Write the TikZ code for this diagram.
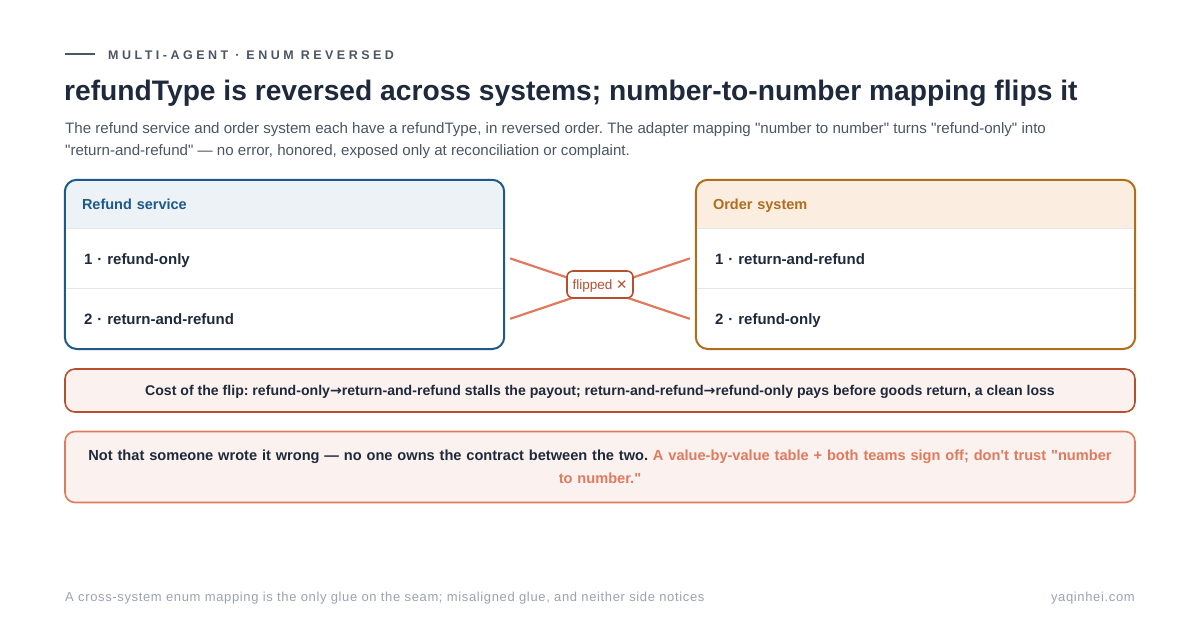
\documentclass[tikz,border=0pt]{standalone}
\usepackage{fontspec}
\setmainfont{Liberation Sans}
\newfontfamily\symfont{DejaVu Sans}
\newfontfamily\eyefont[LetterSpace=28]{Liberation Sans}
\newfontfamily\footfont[LetterSpace=5]{Liberation Sans}
\usetikzlibrary{positioning}
\frenchspacing

\definecolor{ink}{HTML}{1E293B}
\definecolor{subgray}{HTML}{4B5563}
\definecolor{footgray}{HTML}{9CA3AF}
\definecolor{sepgray}{HTML}{E5E7EB}
\definecolor{refblue}{HTML}{1D5A8A}
\definecolor{refbluebg}{HTML}{EDF2F7}
\definecolor{ordbrown}{HTML}{B06D1E}
\definecolor{ordbrownbg}{HTML}{FBEEE0}
\definecolor{flipred}{HTML}{E07A5F}
\definecolor{flipdark}{HTML}{B5502F}
\definecolor{costbg}{HTML}{FBF1EE}

\begin{document}
\begin{tikzpicture}[x=1pt, y=-1pt, node distance=0pt]
	\tikzstyle{txt}=[inner sep=0, anchor=base west, text=ink]
	\tikzstyle{hd}=[minimum width=439, minimum height=48, inner sep=0, text width=405, text height=13, text depth=2, align=left, font=\bfseries\fontsize{14.5}{17}\selectfont]
	\tikzstyle{row}=[minimum width=439, minimum height=60, inner sep=0, text width=401, text height=14, text depth=2, align=left, text=ink, font=\bfseries\fontsize{15}{18}\selectfont]
	\tikzstyle{sep}=[draw=sepgray, line width=1]
	\tikzstyle{flip}=[draw=flipred, line width=2.2]
	\tikzstyle{wide}=[minimum width=1070, inner sep=0, rounded corners=10, line width=1.6, fill=costbg, align=center, text=ink]

	\fill[white] (0,0) rectangle (1200,626);

	% heading
	\draw[subgray, line width=1.8] (65,54) -- (95,54);
	\node[txt, text=subgray, font=\eyefont\bfseries\fontsize{12.5}{15}\selectfont] (eyebrow) at (108,59.5) {MULTI-AGENT · ENUM REVERSED};
	\node[txt, font=\bfseries\fontsize{28.2}{32}\selectfont] (title) at (64,100.5) {refundType is reversed across systems; number-to-number mapping flips it};
	\node[txt, text=subgray, font=\fontsize{15.1}{18}\selectfont] (sub1) at (65,133.5) {The refund service and order system each have a refundType, in reversed order. The adapter mapping \textquotedbl number to number\textquotedbl\ turns \textquotedbl refund-only\textquotedbl\ into};
	\node[txt, text=subgray, font=\fontsize{15.1}{18}\selectfont] (sub2) at (65,155.5) {\textquotedbl return-and-refund\textquotedbl\ — no error, honored, exposed only at reconciliation or complaint.};

	% header bands
	\begin{scope}
		\clip[rounded corners=12] (65,180) rectangle (504,348);
		\fill[refbluebg] (65,180) rectangle (504,228);
	\end{scope}
	\begin{scope}
		\clip[rounded corners=12] (696,180) rectangle (1135,348);
		\fill[ordbrownbg] (696,180) rectangle (1135,228);
	\end{scope}

	% refund service
	\node[hd, text=refblue] (lhd) at (284.5,204) {Refund service};
	\node[row, below=of lhd] (l1) {1 · refund-only};
	\node[row, below=of l1] (l2) {2 · return-and-refund};
	\draw[sep] (l1.north west) -- (l1.north east);
	\draw[sep] (l2.north west) -- (l2.north east);
	\draw[refblue, line width=2, rounded corners=12] (lhd.north west) rectangle (l2.south east);

	% order system
	\node[hd, text=ordbrown] (rhd) at (915.5,204) {Order system};
	\node[row, below=of rhd] (r1) {1 · return-and-refund};
	\node[row, below=of r1] (r2) {2 · refund-only};
	\draw[sep] (r1.north west) -- (r1.north east);
	\draw[sep] (r2.north west) -- (r2.north east);
	\draw[ordbrown, line width=2, rounded corners=12] (rhd.north west) rectangle (r2.south east);

	% crossed mapping
	\draw[flip] ([xshift=6]l1.east) -- ([xshift=-6]r2.west);
	\draw[flip] ([xshift=6]l2.east) -- ([xshift=-6]r1.west);
	\node[draw=flipdark, line width=1.6, fill=white, rounded corners=6, minimum width=66, minimum height=27, inner sep=0, text height=11, text depth=1, text=flipdark, font=\fontsize{13.5}{15}\selectfont] (flipped) at (600,284.5) {flipped {\symfont ✕}};

	% takeaways
	\node[wide, draw=flipdark, minimum height=43, text height=12, text depth=2, font=\bfseries\fontsize{14.1}{16}\selectfont] (cost) at (600,390.5) {Cost of the flip: refund-only{\symfont →}return-and-refund stalls the payout; return-and-refund{\symfont →}refund-only pays before goods return, a clean loss};
	\node[wide, draw=flipred, minimum height=71, text width=1030, font=\bfseries\fontsize{14.6}{23}\selectfont] (note) at (600,467) {Not that someone wrote it wrong — no one owns the contract between the two. \textcolor{flipred}{A value-by-value table + both teams sign off; don\textquotesingle t trust \textquotedbl number}\\\textcolor{flipred}{to number.\textquotedbl}};

	% footer
	\node[txt, text=footgray, font=\footfont\fontsize{13}{15}\selectfont] (foot) at (65,601.5) {A cross-system enum mapping is the only glue on the seam; misaligned glue, and neither side notices};
	\node[txt, anchor=base east, text=footgray, font=\footfont\fontsize{13}{15}\selectfont] (site) at (1135,601.5) {yaqinhei.com};
\end{tikzpicture}
\end{document}
